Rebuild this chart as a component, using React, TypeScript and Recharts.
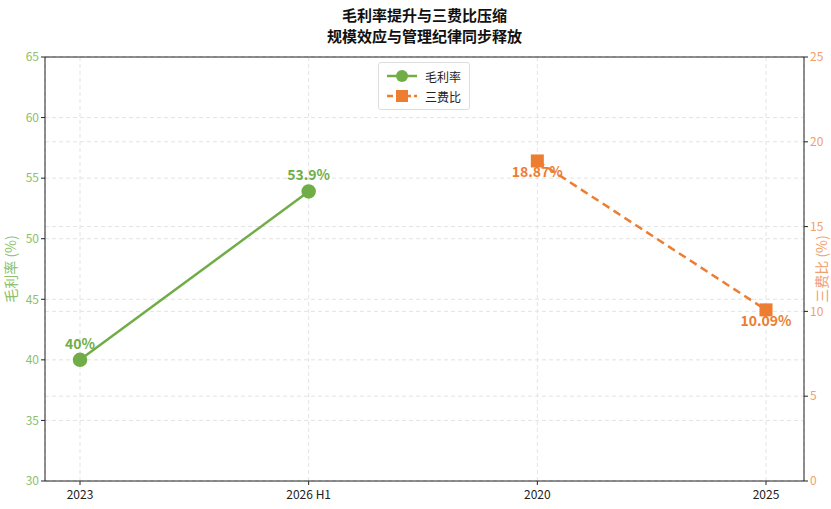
import React from 'react';
import {
  LineChart, Line, XAxis, YAxis, CartesianGrid, ReferenceLine, LabelList,
} from 'recharts';

const FONT = '"Noto Sans CJK SC", "Noto Sans", sans-serif';
const GREEN = '#70AD47';
const ORANGE = '#ED7D31';

const periods = ['2023', '2026 H1', '2020', '2025'];
const grossMargin: (number | null)[] = [40, 53.9, null, null];
const expenseRatio: (number | null)[] = [null, null, 18.87, 10.09];
const leftTicks = [30, 35, 40, 45, 50, 55, 60, 65];
const rightTicks = [0, 5, 10, 15, 20, 25];

const data = periods.map((p, i) => ({ period: p, gm: grossMargin[i], er: expenseRatio[i] }));

const SquareDot = (props: any) => {
  const { cx, cy, value } = props;
  if (value == null || cx == null || cy == null) return null;
  return <rect x={cx - 6.5} y={cy - 6.5} width={13} height={13} fill={ORANGE} />;
};

const LegendBox = () => (
  <div
    style={{
      position: 'absolute', left: 378, top: 62, zIndex: 2,
      border: '1px solid #ddd', borderRadius: 3, background: '#fff', padding: '3px 8px',
      fontFamily: FONT, fontSize: 12, color: '#222', whiteSpace: 'nowrap',
    }}
  >
    <div style={{ display: 'flex', alignItems: 'center', height: 20 }}>
      <svg width={30} height={14} style={{ marginRight: 8, flexShrink: 0 }}>
        <line x1={0} y1={7} x2={30} y2={7} stroke={GREEN} strokeWidth={2.5} />
        <circle cx={15} cy={7} r={6} fill={GREEN} />
      </svg>
      <span>毛利率</span>
    </div>
    <div style={{ display: 'flex', alignItems: 'center', height: 20 }}>
      <svg width={30} height={14} style={{ marginRight: 8, flexShrink: 0 }}>
        <line x1={0} y1={7} x2={30} y2={7} stroke={ORANGE} strokeWidth={2.5} strokeDasharray="6 3" />
        <rect x={9} y={1} width={12} height={12} fill={ORANGE} />
      </svg>
      <span>三费比</span>
    </div>
  </div>
);

const axisTitle = (text: string, x: number, color: string) => (props: any) => {
  const vb = props.viewBox || {};
  const cy = (vb.y ?? 57) + (vb.height ?? 424) / 2;
  return (
    <text x={x} y={cy} transform={`rotate(-90 ${x} ${cy})`} textAnchor="middle" fill={color} fontSize={14} fontFamily={FONT}>
      {text}
    </text>
  );
};

export default function App() {
  return (
    <div style={{ position: 'absolute', left: 0, top: 0, width: 831, height: 509, background: '#fff', fontFamily: FONT }}>
      <div style={{ position: 'absolute', top: 4, left: 0, width: 849, textAlign: 'center', fontWeight: 700, fontSize: 15, lineHeight: '21px', color: '#111' }}>
        毛利率提升与三费比压缩<br />规模效应与管理纪律同步释放
      </div>
      <LegendBox />
      <LineChart width={831} height={509} data={data} margin={{ top: 57, right: 0, left: 0, bottom: 0 }} style={{ fontFamily: FONT }}>
        <CartesianGrid yAxisId="left" stroke="#e3e3e3" strokeDasharray="4 3" vertical horizontal />
        <CartesianGrid yAxisId="right" stroke="#e3e3e3" strokeDasharray="4 3" vertical={false} horizontal />
        <XAxis
          dataKey="period"
          padding={{ left: 35, right: 38 }}
          height={28}
          tickSize={4}
          tickMargin={5}
          tick={{ fontSize: 12, fill: '#222' }}
          axisLine={{ stroke: '#222' }}
          tickLine={{ stroke: '#222' }}
        />
        <YAxis
          yAxisId="left"
          domain={[30, 65]}
          ticks={leftTicks}
          width={45}
          tickSize={4}
          tick={{ fontSize: 12, fill: '#8cc06a' }}
          axisLine={{ stroke: '#222' }}
          tickLine={{ stroke: '#222' }}
          label={axisTitle('毛利率 (%)', 16, '#8cc06a')}
        />
        <YAxis
          yAxisId="right"
          orientation="right"
          domain={[0, 25]}
          ticks={rightTicks}
          width={27}
          tickSize={4}
          tick={{ fontSize: 12, fill: '#f0a06a' }}
          axisLine={{ stroke: '#222' }}
          tickLine={{ stroke: '#222' }}
          label={axisTitle('三费比 (%)', 827, '#f0a06a')}
        />
        <ReferenceLine yAxisId="left" y={65} stroke="#222" />
        <Line
          yAxisId="left"
          dataKey="gm"
          name="毛利率"
          stroke={GREEN}
          strokeWidth={2.5}
          dot={{ r: 6, fill: GREEN, stroke: GREEN }}
          activeDot={false}
          connectNulls={false}
          isAnimationActive={false}
        >
          <LabelList
            dataKey="gm"
            position="top"
            offset={11}
            formatter={(v: any) => (v == null ? '' : `${v}%`)}
            style={{ fill: GREEN, fontWeight: 700, fontSize: 14 }}
          />
        </Line>
        <Line
          yAxisId="right"
          dataKey="er"
          name="三费比"
          stroke={ORANGE}
          strokeWidth={2.5}
          strokeDasharray="8 5"
          dot={<SquareDot />}
          activeDot={false}
          connectNulls={false}
          isAnimationActive={false}
        >
          <LabelList
            dataKey="er"
            position="bottom"
            offset={6}
            formatter={(v: any) => (v == null ? '' : `${v}%`)}
            style={{ fill: ORANGE, fontWeight: 700, fontSize: 14 }}
          />
        </Line>
      </LineChart>
    </div>
  );
}
